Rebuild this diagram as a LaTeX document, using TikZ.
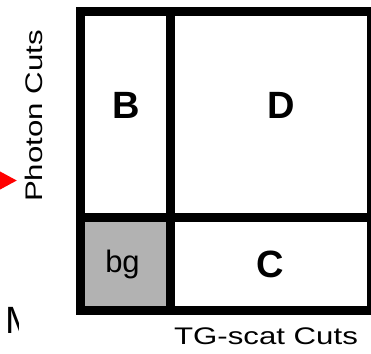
\documentclass[tikz,border=0pt]{standalone}
\usepackage{fontspec}
\setmainfont{Liberation Sans}
\newfontfamily\axisfont[FakeStretch=1.3]{Liberation Sans}
\usetikzlibrary{arrows.meta}
\tikzset{
  cutline/.style={line width=9pt},
  region/.style={font=\bfseries\fontsize{38}{38}\selectfont, inner sep=0pt, anchor=base},
  bglabel/.style={font=\fontsize{31}{31}\selectfont, inner sep=0pt, anchor=base},
  axis/.style={font=\axisfont\fontsize{24}{24}\selectfont, inner sep=0pt, anchor=base},
  pointer/.style={red, line width=4pt, -{Triangle[length=18pt,width=18pt]}}
}
\begin{document}
\begin{tikzpicture}[x=1pt,y=-1pt]
  \useasboundingbox (0,0) rectangle (371,353);
  % grid corners
  \coordinate (tl) at (80.5,12);
  \coordinate (br) at (371,310.5);
  \coordinate (mt) at (170.5,12);
  \coordinate (mb) at (170.5,310.5);
  \coordinate (ml) at (80.5,217.5);
  \coordinate (mr) at (371,217.5);
  \fill[black!30] (ml) rectangle (mb);
  \draw[cutline] (tl) rectangle (br);
  \draw[cutline] (mt) -- (mb);
  \draw[cutline] (ml) -- (mr);
  % regions
  \node[region] (B) at (126,118) {B};
  \node[region] (D) at (281,118) {D};
  \node[region] (C) at (270,277) {C};
  \node[bglabel] (bg) at (122.5,272) {bg};
  % axes
  \node[axis, rotate=90] (photon) at (42,116) {Photon Cuts};
  \node[axis] (tgscat) at (266,344) {TG-scat Cuts};
  % left edge
  \coordinate (arrowtail) at (-40,180.5);
  \coordinate (arrowtip) at (17,180.5);
  \draw[pointer] (arrowtail) -- (arrowtip);
  \begin{scope}
    \clip (0,295) rectangle (18.5,345);
    \node[anchor=base west, font=\fontsize{38}{38}\selectfont, inner sep=0pt] (mfrag) at (5,333) {M};
  \end{scope}
\end{tikzpicture}
\end{document}
